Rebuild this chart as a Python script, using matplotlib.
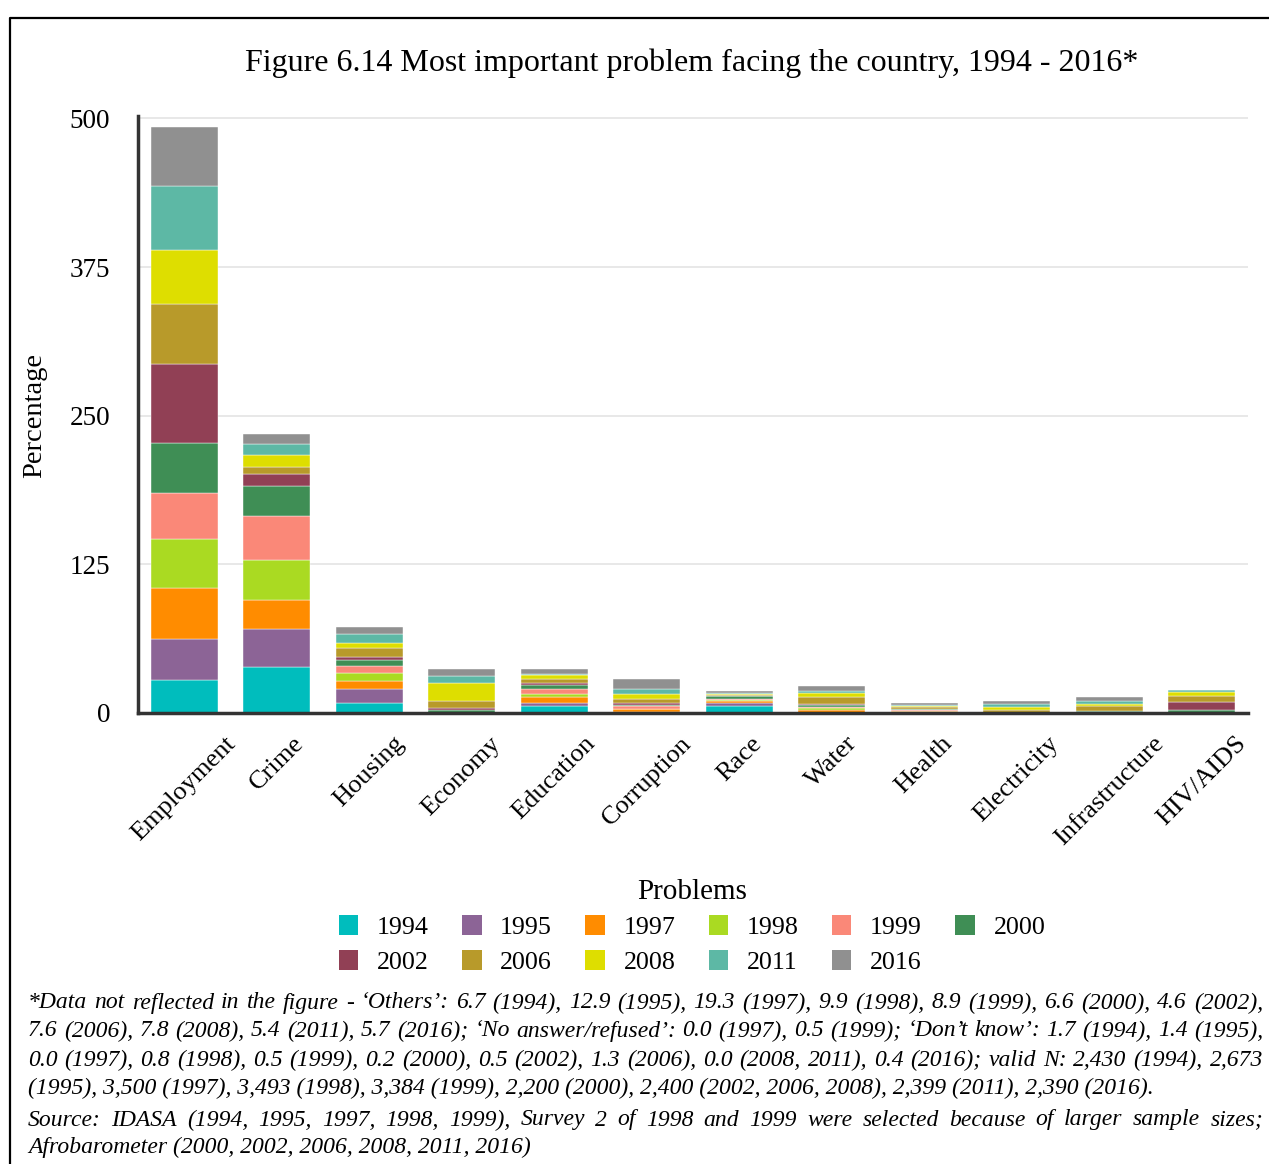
import matplotlib
matplotlib.use("Agg")
import matplotlib.pyplot as plt
from matplotlib.patches import Patch
from matplotlib.lines import Line2D
import numpy as np

W, H = 1269, 1164
DPI = 100

problems = ["Employment", "Crime", "Housing", "Economy", "Education", "Corruption",
            "Race", "Water", "Health", "Electricity", "Infrastructure", "HIV/AIDS"]
years = ["1994", "1995", "1997", "1998", "1999", "2000",
         "2002", "2006", "2008", "2011", "2016"]

# share of respondents naming each problem, one list per survey year (order follows `problems`)
v1994 = [27.9, 38.4, 8.7, 0.0, 6.1, 0.3, 6.1, 0.0, 0.3, 0.0, 0.0, 0.0]
v1995 = [34.3, 32.3, 11.7, 0.0, 2.2, 0.3, 2.2, 0.0, 0.3, 0.0, 0.0, 0.0]
v1997 = [42.7, 23.9, 6.1, 0.0, 5.0, 2.5, 1.4, 2.8, 0.8, 0.0, 0.0, 0.0]
v1998 = [41.1, 34.0, 7.3, 0.0, 2.8, 0.5, 1.1, 1.1, 0.6, 0.0, 0.0, 0.0]
v1999 = [38.7, 36.7, 5.9, 0.0, 4.5, 2.2, 1.1, 1.1, 0.5, 0.0, 0.0, 0.0]
v2000 = [42.4, 25.2, 4.5, 2.8, 2.8, 1.1, 2.2, 1.7, 0.6, 0.0, 1.7, 2.8]
v2002 = [66.6, 10.1, 2.5, 1.1, 2.0, 1.1, 0.6, 1.1, 0.6, 0.0, 0.0, 6.1]
v2006 = [50.2, 6.1, 7.8, 6.1, 2.8, 3.4, 0.6, 5.6, 1.4, 2.2, 4.5, 5.6]
v2008 = [45.8, 10.4, 4.7, 15.1, 3.6, 4.5, 0.3, 3.4, 0.8, 2.8, 1.7, 3.4]
v2011 = [53.2, 9.1, 7.3, 5.9, 1.1, 4.5, 1.0, 1.7, 0.8, 2.8, 2.2, 1.7]
v2016 = [50.2, 8.4, 5.6, 5.9, 4.5, 7.8, 1.7, 4.5, 1.8, 2.2, 3.4, 0.0]

series = [v1994, v1995, v1997, v1998, v1999, v2000, v2002, v2006, v2008, v2011, v2016]
colors = ["#00BDBD", "#8C6496", "#FF8C00", "#AADA22", "#FA8878", "#3F8E55",
          "#914055", "#B89A2A", "#DEDE00", "#5DB8A5", "#909090"]
yticks = [0, 125, 250, 375, 500]

plt.rcParams["font.family"] = ["Liberation Serif", "DejaVu Serif"]

fig = plt.figure(figsize=(W / DPI, H / DPI), dpi=DPI)
fig.patch.set_facecolor("white")


def fx(px):
    return px / W


def fy(py):
    return 1 - py / H


# plotting area
ax = fig.add_axes([fx(138), fy(713), fx(1248) - fx(138), fy(116) - fy(713)])
x = np.arange(len(problems))
bottom = np.zeros(len(problems))
for vals, col, yr in zip(series, colors, years):
    vals = np.array(vals)
    ax.bar(x, vals, width=0.72, bottom=bottom, color=col, label=yr,
           edgecolor="white", linewidth=0.3, zorder=3)
    bottom += vals

ax.set_xlim(-0.5, len(problems) - 0.5)
ax.set_ylim(0, 502)
ax.set_yticks(yticks)
ax.set_yticklabels([str(t) for t in yticks], fontsize=19.5)
ax.tick_params(axis="y", length=0, pad=20)
ax.set_xticks(x)
ax.set_xticklabels(problems, rotation=45, fontsize=19)
ax.tick_params(axis="x", length=0, pad=14)
ax.grid(axis="y", color="#e6e6e6", linewidth=1.3, zorder=0)
for s in ["top", "right"]:
    ax.spines[s].set_visible(False)
for s in ["left", "bottom"]:
    ax.spines[s].set_color("#333333")
    ax.spines[s].set_linewidth(2.5)
    ax.spines[s].set_zorder(4)

# titles and axis names
fig.text(fx(692), fy(63), "Figure 6.14 Most important problem facing the country, 1994 - 2016*",
         ha="center", va="center", fontsize=23)
fig.text(fx(35), fy(415), "Percentage", rotation=90, ha="center", va="center", fontsize=20.5)
fig.text(fx(692), fy(892), "Problems", ha="center", va="center", fontsize=21)

# legend, filled row by row (matplotlib fills columns first, so interleave the rows)
handles = [Patch(facecolor=c, edgecolor="none", label=y) for c, y in zip(colors, years)]
row1, row2 = handles[:6], handles[6:]
ordered = []
for i in range(6):
    ordered.append(row1[i])
    if i < len(row2):
        ordered.append(row2[i])
fig.legend(handles=ordered, ncol=6, loc="upper center",
           bbox_to_anchor=(fx(692), fy(902)), frameon=False, fontsize=18.7,
           handlelength=0.75, handleheight=0.8, handletextpad=0.72,
           columnspacing=1.28, labelspacing=0.42, borderpad=0)

# outer frame (left and top edges)
fig.add_artist(Line2D([fx(10), fx(10), 1.01], [-0.01, fy(18), fy(18)],
                      color="black", linewidth=1.6, transform=fig.transFigure))

# footnote, justified between two margins
notes = [
    ("*Data not reflected in the figure - \u2018Others\u2019: 6.7 (1994), 12.9 (1995), 19.3 (1997), 9.9 (1998), 8.9 (1999), 6.6 (2000), 4.6 (2002),", True, 1003),
    ("7.6 (2006), 7.8 (2008), 5.4 (2011), 5.7 (2016); \u2018No answer/refused\u2019: 0.0 (1997), 0.5 (1999); \u2018Don\u2019t know\u2019: 1.7 (1994), 1.4 (1995),", True, 1031),
    ("0.0 (1997), 0.8 (1998), 0.5 (1999), 0.2 (2000), 0.5 (2002), 1.3 (2006), 0.0 (2008, 2011), 0.4 (2016); valid N: 2,430 (1994), 2,673", True, 1060),
    ("(1995), 3,500 (1997), 3,493 (1998), 3,384 (1999), 2,200 (2000), 2,400 (2002, 2006, 2008), 2,399 (2011), 2,390 (2016).", False, 1088),
    ("Source: IDASA (1994, 1995, 1997, 1998, 1999), Survey 2 of 1998 and 1999 were selected because of larger sample sizes;", True, 1120),
    ("Afrobarometer (2000, 2002, 2006, 2008, 2011, 2016)", False, 1147),
]
left_px, right_px = 28, 1263
note_kw = dict(fontsize=17, style="italic", va="center", ha="left")
renderer = fig.canvas.get_renderer()
for line, justify, ypx in notes:
    if not justify:
        fig.text(fx(left_px), fy(ypx), line, **note_kw)
        continue
    words = line.split(" ")
    arts = [fig.text(0, fy(ypx), w_, **note_kw) for w_ in words]
    widths = [a.get_window_extent(renderer).width for a in arts]
    gap = (right_px - left_px - sum(widths)) / (len(words) - 1)
    pos = left_px
    for a, wd in zip(arts, widths):
        a.set_x(fx(pos))
        pos += wd + gap

fig.savefig("out.png", dpi=DPI)
